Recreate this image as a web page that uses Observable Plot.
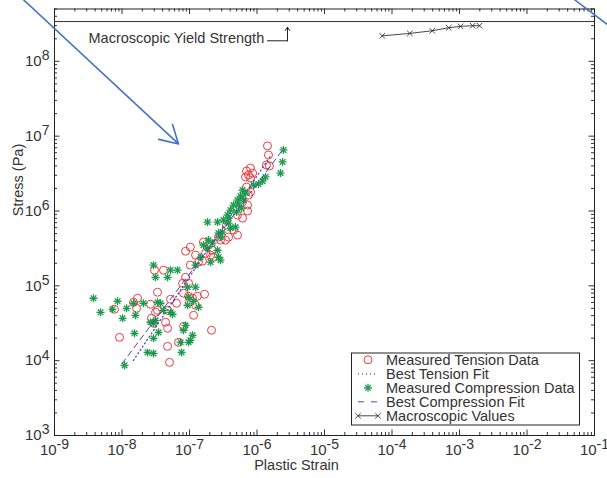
<!DOCTYPE html>
<html><head><meta charset="utf-8">
<script src="https://cdn.jsdelivr.net/npm/d3@7"></script>
<script src="https://cdn.jsdelivr.net/npm/@observablehq/plot@0.6"></script>
<style>
body{margin:0;background:#fff;}
#chart{position:relative;width:607px;height:478px;}
</style>
</head><body><div id="chart"></div>
<script>
// ---- data ----
const tensionStrain = [1.43e-6,1.48e-6,1.38e-6,1.53e-6,8.0e-7,7.0e-7,7.49e-7,8.6e-7,6.76e-7,8.0e-7,
 7.0e-7,8.0e-7,7.49e-7,7.24e-7,6.10e-7,7.24e-7,5.14e-7,6.10e-7,4.49e-7,5.14e-7,
 3.79e-7,3.42e-7,3.54e-7,2.69e-7,2.88e-7,1.61e-7,1.91e-7,2.19e-7,1.03e-7,8.75e-8,
 1.23e-7,1.73e-7,2.05e-7,2.27e-7,1.36e-7,1.03e-7,1.56e-7,4.12e-8,3.03e-8,8.75e-8,
 7.90e-8,9.70e-8,3.36e-8,8.17e-8,9.70e-8,1.31e-7,1.67e-7,1.11e-7,1.0e-7,1.70e-8,
 1.48e-8,1.64e-8,5.24e-8,6.43e-8,2.64e-8,7.74e-9,3.36e-8,4.73e-8,3.14e-8,1.23e-7,
 1.15e-7,2.73e-8,2.93e-8,4.42e-8,4.73e-8,8.17e-8,2.12e-7,9.18e-9,6.88e-8,4.73e-8,5.06e-8];
const tensionStress = [7.40e6,5.60e6,4.12e6,3.99e6,3.75e6,3.42e6,3.02e6,3.21e6,2.85e6,2.76e6,
 2.09e6,1.79e6,1.63e6,1.20e6,1.32e6,1.0e6,8.81e5,8.03e5,5.55e5,4.76e5,
 4.47e5,4.08e5,6.47e5,4.47e5,4.08e5,3.84e5,3.50e5,2.99e5,3.29e5,2.90e5,
 2.57e5,2.73e5,2.57e5,2.41e5,2.07e5,1.89e5,2.14e5,1.62e5,1.62e5,1.30e5,
 1.08e5,1.08e5,8.21e4,7.96e4,7.26e4,7.26e4,7.72e4,6.82e4,6.03e4,6.82e4,
 6.03e4,5.01e4,6.61e4,5.85e4,5.67e4,4.86e4,4.71e4,4.71e4,4.43e4,5.50e4,
 4.04e4,3.68e4,3.16e4,3.26e4,2.71e4,2.88e4,2.55e4,2.05e4,1.76e4,1.55e4,9.5e3];

const compressionStrain = [2.47e-6,2.39e-6,2.23e-6,1.34e-6,1.21e-6,1.05e-6,8.9e-7,6.10e-7,6.76e-7,5.70e-7,
 6.32e-7,5.14e-7,5.32e-7,5.90e-7,4.49e-7,4.05e-7,4.97e-7,3.79e-7,3.66e-7,3.19e-7,
 3.79e-7,4.80e-7,4.05e-7,1.85e-7,2.60e-7,3.08e-7,2.69e-7,2.88e-7,1.91e-7,2.19e-7,
 1.61e-7,1.85e-7,2.60e-7,2.69e-7,2.88e-7,2.05e-7,1.46e-7,1.23e-7,2.93e-8,3.14e-8,
 5.24e-8,6.65e-8,4.73e-8,9.37e-8,1.23e-7,9.70e-8,9.37e-8,1.15e-7,1.36e-7,3.78e-9,
 8.6e-9,4.80e-9,7.23e-9,1.17e-8,1.02e-8,1.58e-8,2.08e-8,1.48e-8,3.36e-8,3.72e-8,
 4.12e-8,5.61e-8,5.24e-8,2.93e-8,2.64e-8,3.48e-8,8.75e-8,8.17e-8,1.11e-7,1.03e-7,
 7.37e-8,9.70e-8,1.53e-8,2.93e-8,2.39e-8,2.93e-8,7.63e-8,1.09e-8,3.14e-8];
const compressionStress = [6.54e6,4.52e6,3.21e6,2.85e6,2.51e6,2.29e6,2.22e6,1.90e6,1.74e6,1.58e6,
 1.40e6,1.40e6,1.20e6,1.09e6,1.20e6,1.03e6,9.66e5,8.03e5,8.81e5,7.55e5,
 6.88e5,6.09e5,5.90e5,7.10e5,7.10e5,5.22e5,5.06e5,4.47e5,4.08e5,3.72e5,
 3.50e5,3.19e5,2.99e5,2.41e5,2.20e5,2.07e5,2.41e5,1.89e5,1.89e5,1.30e5,
 1.62e5,1.62e5,1.30e5,9.58e4,9.58e4,7.04e4,5.50e4,6.22e4,5.17e4,6.82e4,
 6.22e4,4.43e4,4.86e4,5.01e4,3.68e4,4.04e4,5.85e4,5.85e4,6.03e4,5.85e4,
 4.71e4,4.17e4,4.43e4,3.16e4,3.26e4,2.39e4,2.97e4,2.55e4,2.18e4,1.87e4,
 1.76e4,1.76e4,2.32e4,1.99e4,1.29e4,1.25e4,1.29e4,8.65e3,3.46e4];

const tensionFitStrain = [1.48e-8, 1.58e-6];
const tensionFitStress = [1.01e4, 5.43e6];
const compressionFitStrain = [1.0e-8, 2.39e-6];
const compressionFitStress = [9.1e3, 6.53e6];

const macroStrain = [7.16e-5, 1.84e-4, 3.95e-4, 6.93e-4, 1.035e-3, 1.57e-3, 1.98e-3];
const macroStress = [2.19e8, 2.36e8, 2.56e8, 2.81e8, 2.93e8, 2.99e8, 2.99e8];

const yieldStrength = [3.4e8];
const yieldLabel = "Macroscopic Yield Strength";
const yieldLabelAt = {strain: 3.19e-9, stress: 2.0e8};
const yieldConnectorStrain = [1.43e-6, 2.83e-6];
const yieldConnectorStress = [1.88e8, 1.88e8];
const yieldArrowTip = {strain: 2.83e-6, stress: 2.85e8};

// blue overlay annotation strokes (strain, stress)
const pointerArrow = {x1: 3.47e-10, y1: 6.65e8, x2: 6.87e-8, y2: 7.87e6};
const cornerStroke = {x1: 5.06e-2, y1: 6.65e8, x2: 0.156, y2: 3.08e8};

const xTickExponents = [-9,-8,-7,-6,-5,-4,-3,-2,-1];
const yTickExponents = [3,4,5,6,7,8];
const xDomain = [1e-9, 1e-1];
const yDomain = [1e3, 5e8];

const legendLabels = ["Measured Tension Data","Best Tension Fit","Measured Compression Data","Best Compression Fit","Macroscopic Values"];
const xLabel = "Plastic Strain";
const yLabel = "Stress (Pa)";

// ---- build ----
const tension = tensionStrain.map((s,i)=>({strain:s, stress:tensionStress[i]}));
const compression = compressionStrain.map((s,i)=>({strain:s, stress:compressionStress[i]}));
const tFit = tensionFitStrain.map((s,i)=>({strain:s, stress:tensionFitStress[i]}));
const cFit = compressionFitStrain.map((s,i)=>({strain:s, stress:compressionFitStress[i]}));
const macro = macroStrain.map((s,i)=>({strain:s, stress:macroStress[i]}));
const connector = yieldConnectorStrain.map((s,i)=>({strain:s, stress:yieldConnectorStress[i]}));

const xTicks = xTickExponents.map(e => Math.pow(10, e));
const yTicks = yTickExponents.map(e => Math.pow(10, e));
const isMajor = d => Math.abs(Math.log10(d) - Math.round(Math.log10(d))) < 1e-9;
const xMinor = d3.scaleLog().domain(xDomain).ticks().filter(d => !isMajor(d));
const yMinor = d3.scaleLog().domain(yDomain).ticks().filter(d => !isMajor(d));
const fmt = d => "10^" + Math.round(Math.log10(d));

const W = 607, H = 478, mL = 54, mR = 13, mT = 8.5, mB = 43;
const fW = W - mL - mR, fH = H - mT - mB;
const major = 5.5, minor = 3;
const tickColor = "#333";
const red = "#ec3b44", green = "#1c9a4c", fitBlue = "#4848b4", annBlue = "#4472c4";
const FONT = '"Liberation Sans", Arial, Helvetica, sans-serif';

const plot = Plot.plot({
  width: W, height: H,
  marginLeft: mL, marginRight: mR, marginTop: mT, marginBottom: mB,
  x: {type: "log", domain: xDomain},
  y: {type: "log", domain: yDomain},
  style: {fontFamily: FONT, fontSize: "14.5px", color: "#222", background: "#fff", overflow: "visible"},
  marks: [
    // ticks inward on all sides
    Plot.ruleX(xTicks, {x: d => d, insetTop: fH - major, stroke: tickColor}),
    Plot.ruleX(xTicks, {x: d => d, insetBottom: fH - major, stroke: tickColor}),
    Plot.ruleX(xMinor, {x: d => d, insetTop: fH - minor, stroke: tickColor}),
    Plot.ruleX(xMinor, {x: d => d, insetBottom: fH - minor, stroke: tickColor}),
    Plot.ruleY(yTicks, {y: d => d, insetRight: fW - major, stroke: tickColor}),
    Plot.ruleY(yTicks, {y: d => d, insetLeft: fW - major, stroke: tickColor}),
    Plot.ruleY(yMinor, {y: d => d, insetRight: fW - minor, stroke: tickColor}),
    Plot.ruleY(yMinor, {y: d => d, insetLeft: fW - minor, stroke: tickColor}),
    Plot.axisX({ticks: xTicks, tickSize: 0, tickPadding: 9, tickFormat: fmt, label: null, fontSize: 15, fill: "#333"}),
    Plot.axisY({ticks: yTicks, tickSize: 0, tickPadding: 5, tickFormat: fmt, label: null, fontSize: 15, fill: "#333"}),
    Plot.frame({stroke: "#222"}),
    // yield strength
    Plot.ruleY(yieldStrength, {y: d => d, stroke: "#333", strokeWidth: 1}),
    Plot.text([yieldLabel], {x: () => yieldLabelAt.strain, y: () => yieldLabelAt.stress, text: d => d, textAnchor: "start", fill: "#333", fontSize: 14.5}),
    Plot.line(connector, {x: "strain", y: "stress", stroke: "#222", strokeWidth: 1}),
    Plot.arrow([yieldArrowTip], {x1: () => yieldConnectorStrain[1], y1: () => yieldConnectorStress[1], x2: "strain", y2: "stress", stroke: "#222", strokeWidth: 1, headLength: 6, headAngle: 70}),
    // data
    Plot.dot(tension, {x: "strain", y: "stress", r: 4, stroke: red, strokeWidth: 1, fill: "none"}),
    Plot.line(tFit, {x: "strain", y: "stress", stroke: fitBlue, strokeWidth: 1.3, strokeDasharray: "1,3"}),
    Plot.dot(compression, {x: "strain", y: "stress", symbol: "plus", r: 2.7, stroke: green, strokeWidth: 1.3}),
    Plot.dot(compression, {x: "strain", y: "stress", symbol: "times", r: 2.7, stroke: green, strokeWidth: 1.3}),
    Plot.line(cFit, {x: "strain", y: "stress", stroke: fitBlue, strokeWidth: 1, strokeDasharray: "6,4"}),
    Plot.line(macro, {x: "strain", y: "stress", stroke: "#333", strokeWidth: 0.9}),
    Plot.dot(macro, {x: "strain", y: "stress", symbol: "times", r: 2.6, stroke: "#333", strokeWidth: 0.9}),
    // axis titles
    Plot.text([xLabel], {text: d => d, frameAnchor: "bottom", dy: 34, dx: -28, fill: "#333", fontSize: 14.5}),
    Plot.text([yLabel], {text: d => d, frameAnchor: "left", rotate: -90, dx: -36.5, dy: -6, fill: "#333", fontSize: 14.5}),
    // blue overlay strokes
    Plot.arrow([pointerArrow], {x1: "x1", y1: "y1", x2: "x2", y2: "y2", stroke: annBlue, strokeWidth: 1.6, headLength: 19, headAngle: 60}),
    Plot.link([cornerStroke], {x1: "x1", y1: "y1", x2: "x2", y2: "y2", stroke: annBlue, strokeWidth: 1.6})
  ]
});

// superscript exponents in tick labels
plot.querySelectorAll('g[aria-label="x-axis tick label"] text, g[aria-label="y-axis tick label"] text').forEach(t => {
  const parts = t.textContent.split("^");
  if (parts.length !== 2) return;
  t.textContent = parts[0];
  const ts = document.createElementNS("http://www.w3.org/2000/svg", "tspan");
  ts.setAttribute("dy", "-0.42em");
  ts.setAttribute("font-size", "14px");
  ts.textContent = parts[1];
  t.appendChild(ts);
});

// legend (inside the axes, lower right)
const svg = d3.select(plot);
const lg = svg.append("g").attr("font-family", FONT).attr("font-size", "14.5px").attr("text-anchor", "start");
const lx = 351.5, ly = 353, lw = 228, lh = 72, rowH = 14, row0 = ly + 6.8;
lg.append("rect").attr("x", lx).attr("y", ly).attr("width", lw).attr("height", lh).attr("fill", "#fff").attr("stroke", "#222");
const sx = 368, sx0 = 358, sx1 = 378, tx = 386;
legendLabels.forEach((label, i) => {
  const y = row0 + i * rowH;
  if (i === 0) lg.append("circle").attr("cx", sx).attr("cy", y).attr("r", 4).attr("fill", "none").attr("stroke", red);
  if (i === 1) lg.append("line").attr("x1", sx0).attr("x2", sx1).attr("y1", y).attr("y2", y).attr("stroke", fitBlue).attr("stroke-width", 1.3).attr("stroke-dasharray", "1,3");
  if (i === 2) {
    lg.append("path").attr("d", d3.symbol(d3.symbolPlus, Math.PI * 2.7 * 2.7)()).attr("transform", `translate(${sx},${y})`).attr("fill", "none").attr("stroke", green).attr("stroke-width", 1.3);
    lg.append("path").attr("d", d3.symbol(d3.symbolTimes, Math.PI * 2.7 * 2.7)()).attr("transform", `translate(${sx},${y})`).attr("fill", "none").attr("stroke", green).attr("stroke-width", 1.3);
  }
  if (i === 3) lg.append("line").attr("x1", sx0).attr("x2", sx1).attr("y1", y).attr("y2", y).attr("stroke", fitBlue).attr("stroke-dasharray", "6,7");
  if (i === 4) {
    lg.append("line").attr("x1", sx0).attr("x2", sx1).attr("y1", y).attr("y2", y).attr("stroke", "#333").attr("stroke-width", 0.9);
    [sx0, sx1].forEach(px => lg.append("path").attr("d", d3.symbol(d3.symbolTimes, Math.PI * 2.6 * 2.6)()).attr("transform", `translate(${px},${y})`).attr("fill", "none").attr("stroke", "#333").attr("stroke-width", 0.9));
  }
  lg.append("text").attr("x", tx).attr("y", y).attr("dy", "0.35em").attr("text-anchor", "start").attr("fill", "#333").text(label);
});

document.getElementById("chart").appendChild(plot);
</script>
</body></html>
